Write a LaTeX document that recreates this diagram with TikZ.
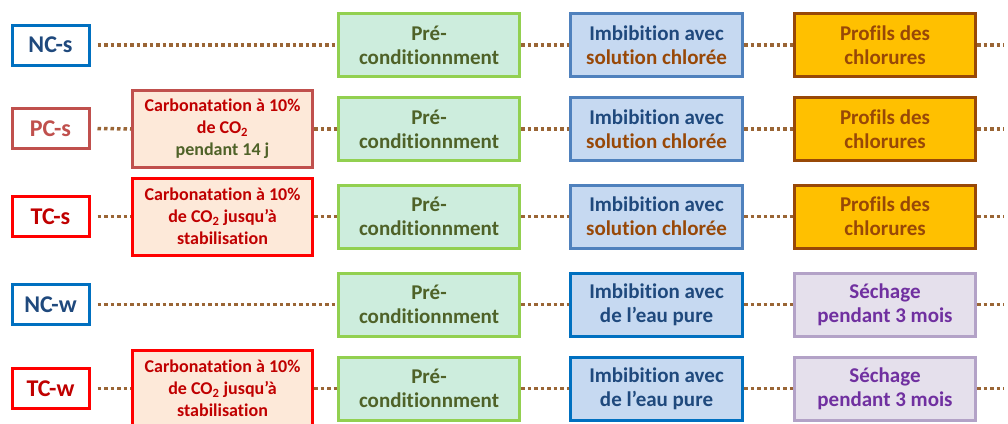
\documentclass[tikz,border=0pt]{standalone}
\usepackage{fontspec}
\setmainfont{Carlito}[Ligatures=NoCommon]
\definecolor{bleuNC}{HTML}{0070C0}
\definecolor{bleuTxt}{HTML}{1F497D}
\definecolor{rougePC}{HTML}{C0504D}
\definecolor{rougeTC}{HTML}{FF0000}
\definecolor{rougeTxt}{HTML}{C00000}
\definecolor{peche}{HTML}{FDE9D9}
\definecolor{vertBord}{HTML}{92D050}
\definecolor{vertFond}{HTML}{CDEDDD}
\definecolor{vertTxt}{HTML}{4F6228}
\definecolor{bleuBord}{HTML}{4F81BD}
\definecolor{bleuFond}{HTML}{C6D9F1}
\definecolor{brun}{HTML}{984807}
\definecolor{orFond}{HTML}{FFC000}
\definecolor{mauveFond}{HTML}{E5E0EC}
\definecolor{mauveBord}{HTML}{B3A2C7}
\definecolor{mauveTxt}{HTML}{7030A0}
\definecolor{pointille}{HTML}{9A6535}
\tikzset{
  boite/.style={draw, line width=3pt, align=center, inner sep=0pt, font=\bfseries\fontsize{21}{24}\selectfont},
  etiq/.style={boite, fill=white, minimum width=77pt, minimum height=40pt, font=\bfseries\fontsize{24}{28}\selectfont},
  carbo/.style={boite, draw=#1, fill=peche, text=rougeTxt, minimum width=180pt, minimum height=77pt, font=\bfseries\fontsize{18}{22}\selectfont},
  precond/.style={boite, draw=vertBord, fill=vertFond, text=vertTxt, minimum width=181pt, minimum height=63pt},
  imbib/.style={boite, draw=#1, fill=bleuFond, text=bleuTxt, minimum width=172pt, minimum height=63pt},
  profil/.style={boite, draw=brun, fill=orFond, text=brun, minimum width=181pt, minimum height=63pt},
  sechage/.style={boite, draw=mauveBord, fill=mauveFond, text=mauveTxt, minimum width=181pt, minimum height=63pt},
  lien/.style={draw=pointille, line width=3.5pt, dash pattern=on 3.5pt off 3pt}
}
\begin{document}
\begin{tikzpicture}[x=1pt, y=-1pt]
\useasboundingbox (0,0) rectangle (1008,423);
% NC-s
\node[etiq, draw=bleuNC, text=bleuTxt] (ncs) at (50.5, 45) {NC-s};
\node[precond] (pre1) at (429, 45) {Pré-\\conditionnment};
\node[imbib=bleuBord] (imb1) at (656.5, 45) {Imbibition avec\\\textcolor{brun}{solution chlorée}};
\node[profil] (fin1) at (885, 45) {Profils des\\chlorures};
\coordinate (bord1) at (1004, 45);
% PC-s
\node[etiq, draw=rougePC, text=rougePC] (pcs) at (50.5, 128.5) {PC-s};
\node[carbo=rougePC] (carb2) at (222.5, 129) {Carbonatation à 10\%\\de CO\textsubscript{2}\\\textcolor{vertTxt}{pendant 14 j}};
\node[precond] (pre2) at (429, 129) {Pré-\\conditionnment};
\node[imbib=bleuBord] (imb2) at (656.5, 129) {Imbibition avec\\\textcolor{brun}{solution chlorée}};
\node[profil] (fin2) at (885, 129) {Profils des\\chlorures};
\coordinate (bord2) at (1004, 129);
% TC-s
\node[etiq, draw=rougeTC, text=rougeTxt] (tcs) at (50.5, 216.5) {TC-s};
\node[carbo=rougeTC] (carb3) at (222.5, 216.5) {Carbonatation à 10\%\\de CO\textsubscript{2} jusqu’à\\stabilisation};
\node[precond] (pre3) at (429, 216.5) {Pré-\\conditionnment};
\node[imbib=bleuBord] (imb3) at (656.5, 216.5) {Imbibition avec\\\textcolor{brun}{solution chlorée}};
\node[profil] (fin3) at (885, 216.5) {Profils des\\chlorures};
\coordinate (bord3) at (1004, 216.5);
% NC-w
\node[etiq, draw=bleuNC, text=bleuTxt] (ncw) at (50.5, 304.5) {NC-w};
\node[precond] (pre4) at (429, 304.5) {Pré-\\conditionnment};
\node[imbib=bleuNC] (imb4) at (656.5, 304.5) {Imbibition avec\\de l’eau pure};
\node[sechage] (fin4) at (885, 304.5) {Séchage\\pendant 3 mois};
\coordinate (bord4) at (1004, 304.5);
% TC-w
\node[etiq, draw=rougeTC, text=rougeTxt] (tcw) at (50.5, 388.5) {TC-w};
\node[carbo=rougeTC] (carb5) at (222.5, 388.5) {Carbonatation à 10\%\\de CO\textsubscript{2} jusqu’à\\stabilisation};
\node[precond] (pre5) at (429, 388.5) {Pré-\\conditionnment};
\node[imbib=bleuNC] (imb5) at (656.5, 388.5) {Imbibition avec\\de l’eau pure};
\node[sechage] (fin5) at (885, 388.5) {Séchage\\pendant 3 mois};
\coordinate (bord5) at (1004, 388.5);
% pointilles
\draw[lien] ([xshift=7pt]ncs.east) -- (pre1.west);
\draw[lien] ([xshift=7pt]pcs.east) -- (carb2.west);
\draw[lien] (carb2.east) -- (pre2.west);
\draw[lien] ([xshift=7pt]tcs.east) -- (carb3.west);
\draw[lien] (carb3.east) -- (pre3.west);
\draw[lien] ([xshift=7pt]ncw.east) -- (pre4.west);
\draw[lien] ([xshift=7pt]tcw.east) -- (carb5.west);
\draw[lien] (carb5.east) -- (pre5.west);
\foreach \i in {1,...,5} {
  \draw[lien] (pre\i.east) -- (imb\i.west);
  \draw[lien] (imb\i.east) -- (fin\i.west);
  \draw[lien] (fin\i.east) -- (bord\i);
}
\end{tikzpicture}
\end{document}
